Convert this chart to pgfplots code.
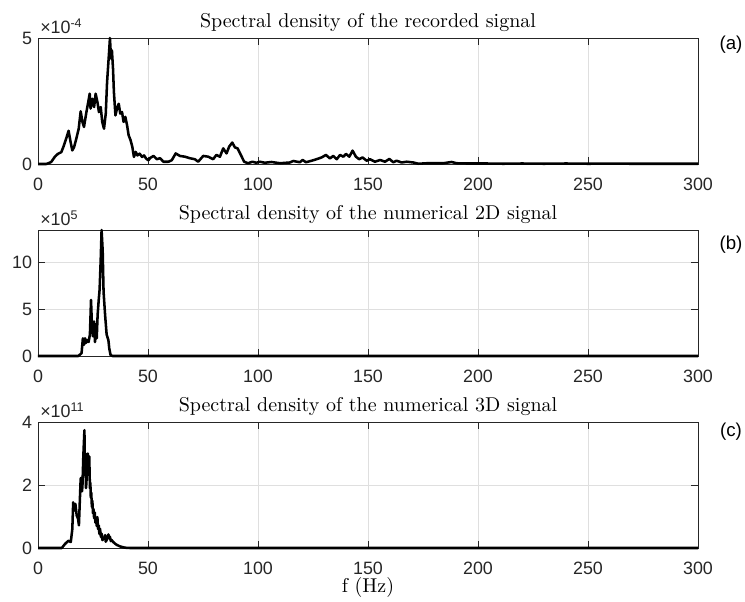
\documentclass[border=0pt]{standalone}
\usepackage{fontspec}
\setsansfont{Liberation Sans}
\newfontfamily\titlefont{lmroman10-regular.otf}
\usepackage{pgfplots}
\pgfplotsset{compat=1.18}

\definecolor{axgray}{RGB}{38,38,38}
\definecolor{gridgray}{RGB}{223,223,223}
\newcommand{\tickfont}{\sffamily\fontsize{13.4}{16}\selectfont}
\newcommand{\expo}[1]{\raisebox{4.5pt}{\fontsize{9.4}{10}\selectfont #1}}

\pgfplotsset{
  spec/.style={
    width=495pt, height=94.5pt, scale only axis,
    xmin=0, xmax=300, ymin=0,
    xtick={0,50,...,300},
    scaled y ticks=false,
    grid=major, major grid style={draw=gridgray, line width=0.5pt},
    tick align=inside, major tick length=5pt,
    axis line style={draw=axgray, line width=0.6pt},
    tick style={draw=axgray, line width=0.6pt},
    ticklabel style={font=\tickfont, text=axgray},
    /pgf/number format/assume math mode=true,
    xticklabel style={anchor=base, yshift=-19.5pt, inner sep=0pt},
    yticklabel style={xshift=-1pt},
    every axis title shift=0pt,
    title style={font=\titlefont\fontsize{15}{18}\selectfont, at={(rel axis cs:0.5,1)}, anchor=base, yshift=8.2pt},
    clip=false,
  },
}
\tikzset{
  sig/.style={black, line width=1.9pt, line join=round, no markers},
  scalelab/.style={anchor=base west, font=\tickfont, text=axgray, inner sep=0pt, xshift=1.5pt, yshift=3.4pt},
  panlab/.style={font=\sffamily\fontsize{14}{16}\selectfont, text=black},
}

\begin{document}
\begin{tikzpicture}
\useasboundingbox (-28.5pt,-39.75pt) rectangle (530.25pt,411pt);

% (a) recorded signal
\begin{axis}[spec, at={(0,288pt)}, ymax=5e-4, ytick={0,5e-4}, yticklabels={0,5},
  title={Spectral density of the recorded signal}]
\addplot[sig] coordinates {
(0,0) (2,0) (3.8,0) (5,0.04e-4) (6,0.08e-4) (7.6,0.28e-4) (9,0.40e-4) (10.6,0.47e-4)
(11.8,0.74e-4) (12.9,1.03e-4) (13.9,1.32e-4) (14.8,0.88e-4) (15.6,0.54e-4) (16.4,0.67e-4)
(17.4,1.00e-4) (18.5,1.40e-4) (19.4,2.09e-4) (20.2,1.67e-4) (20.9,1.47e-4) (22.0,2.06e-4)
(22.7,2.39e-4) (23.5,2.79e-4) (23.9,2.20e-4) (24.7,2.59e-4) (25.5,2.26e-4) (26.2,2.79e-4)
(27.0,2.46e-4) (27.7,2.06e-4) (28.5,2.26e-4) (29.2,1.67e-4) (30.0,1.40e-4) (30.8,2.00e-4)
(31.4,3.25e-4) (31.8,3.78e-4) (32.3,4.44e-4) (32.7,5.00e-4) (33.2,4.18e-4) (33.6,4.51e-4)
(34.1,3.78e-4) (34.5,2.86e-4) (35.2,1.93e-4) (35.9,2.20e-4) (36.7,2.39e-4) (37.4,2.00e-4)
(38.2,2.06e-4) (38.9,1.67e-4) (39.7,1.87e-4) (40.5,1.53e-4) (41.2,1.14e-4) (42.1,0.94e-4)
(42.9,0.67e-4) (43.6,0.28e-4) (44.4,0.48e-4) (45.2,0.34e-4) (46.2,0.41e-4) (47.3,0.28e-4)
(48.2,0.34e-4) (49.2,0.21e-4) (50.2,0.15e-4) (51.0,0.24e-4) (52.5,0.32e-4) (54.0,0.19e-4)
(55.5,0.23e-4) (57.0,0.09e-4) (59.3,0.09e-4) (60.8,0.15e-4) (62.6,0.42e-4) (64.5,0.32e-4)
(66.8,0.29e-4) (69.0,0.23e-4) (71.3,0.19e-4) (72.8,0.09e-4) (75.1,0.32e-4) (77.4,0.29e-4)
(79.6,0.19e-4) (81.1,0.36e-4) (82.7,0.29e-4) (84.2,0.62e-4) (85.7,0.42e-4) (86.9,0.69e-4)
(88.3,0.85e-4) (89.5,0.66e-4) (90.7,0.62e-4) (92.2,0.36e-4) (93.7,0.09e-4) (95.5,0.03e-4)
(97.4,0.09e-4) (99.3,0.05e-4) (100.8,0.09e-4) (103.1,0.05e-4) (106.1,0.08e-4) (110,0.03e-4)
(114.5,0.06e-4) (116,0.12e-4) (119,0.07e-4) (120.3,0.16e-4) (121.8,0.07e-4) (124.4,0.13e-4)
(126.6,0.19e-4) (128.9,0.26e-4) (130.9,0.36e-4) (132.7,0.22e-4) (134.2,0.32e-4) (135.8,0.19e-4)
(137.3,0.36e-4) (138.8,0.29e-4) (140,0.40e-4) (141.5,0.29e-4) (143,0.53e-4) (144.5,0.29e-4)
(146,0.19e-4) (147.5,0.26e-4) (149.4,0.13e-4) (150.9,0.19e-4) (153.2,0.09e-4) (155.5,0.16e-4)
(157.7,0.09e-4) (159.7,0.20e-4) (161.5,0.07e-4) (163,0.13e-4) (165.3,0.06e-4) (167.6,0.09e-4)
(170.6,0.06e-4) (172.9,0.01e-4) (176.7,0.03e-4) (181.2,0.03e-4) (184.2,0.03e-4) (188,0.08e-4)
(190.3,0.03e-4) (194.8,0.02e-4) (199.4,0.02e-4) (203.9,0.02e-4) (211.5,0.01e-4) (220,0.02e-4)
(230,0.01e-4) (240,0.02e-4) (250,0.01e-4) (260,0.015e-4) (270,0.01e-4) (280,0.01e-4)
(290,0.01e-4) (300,0.01e-4)
};
\node[scalelab] at (rel axis cs:0,1) {×10\expo{-4}};
\node[panlab] at (rel axis cs:1.05,0.948) {(a)};
\end{axis}

% (b) numerical 2D signal
\begin{axis}[spec, at={(0,144pt)}, ymax=13.5e5, ytick={0,5e5,10e5}, yticklabels={0,5,10},
  title={Spectral density of the numerical 2D signal}]
\addplot[sig] coordinates {
(0,0) (18.3,0) (19.8,0.3e5) (20.4,1.9e5) (20.9,1.2e5) (21.4,1.9e5) (21.8,1.4e5) (22.4,1.7e5)
(23.0,1.5e5) (23.6,2.3e5) (24.1,6.0e5) (24.5,3.4e5) (25.0,2.1e5) (25.5,3.7e5) (25.9,1.5e5)
(26.2,3.4e5) (26.7,1.9e5) (27.1,4.4e5) (27.6,6.0e5) (28.0,7.1e5) (28.5,10.3e5) (28.9,13.5e5)
(29.4,11.3e5) (29.8,6.9e5) (30.5,4.4e5) (31.2,2.3e5) (32.0,1.7e5) (32.4,0.8e5) (33.0,0.1e5)
(33.9,0) (300,0)
};
\node[scalelab] at (rel axis cs:0,1) {×10\expo{5}};
\node[panlab] at (rel axis cs:1.05,0.881) {(b)};
\end{axis}

% (c) numerical 3D signal
\begin{axis}[spec, at={(0,0)}, ymax=4e11, ytick={0,2e11,4e11}, yticklabels={0,2,4},
  title={Spectral density of the numerical 3D signal},
  xlabel={f (Hz)},
  xlabel style={font=\titlefont\fontsize{15}{18}\selectfont, at={(rel axis cs:0.5,0)}, anchor=base, inner sep=0pt, yshift=-33pt}]
\addplot[sig] coordinates {
(0,0) (10.8,0) (12.3,0.13e11) (13.8,0.23e11) (14.9,0.19e11) (15.6,0.60e11) (16.0,1.45e11)
(16.4,1.18e11) (17.0,1.40e11) (17.6,1.03e11) (18.2,0.93e11) (18.6,0.72e11) (19.1,1.66e11)
(19.4,2.2e11) (19.7,2.23e11) (20.0,1.8e11) (20.2,1.97e11) (20.6,2.91e11) (21.1,3.74e11)
(21.3,2.6e11) (21.5,3.01e11) (21.8,1.9e11) (22.0,2.07e11) (22.4,2.7e11) (22.7,3.0e11)
(22.9,2.33e11) (23.1,2.6e11) (23.3,2.91e11) (23.6,1.9e11) (23.8,2.07e11) (24.0,1.6e11)
(24.2,1.76e11) (24.5,1.3e11) (24.7,1.5e11) (25.0,1.1e11) (25.2,1.24e11) (25.5,0.95e11)
(25.8,1.13e11) (26.1,0.8e11) (26.4,0.93e11) (26.7,0.7e11) (27.0,0.98e11) (27.3,0.6e11)
(27.6,0.72e11) (27.9,0.45e11) (28.2,0.61e11) (28.6,0.35e11) (28.9,0.46e11) (29.3,0.25e11)
(29.7,0.30e11) (30.1,0.3e11) (30.5,0.41e11) (30.8,0.2e11) (31.2,0.25e11) (31.6,0.35e11)
(32.0,0.43e11) (32.4,0.3e11) (32.7,0.36e11) (33.1,0.22e11) (33.5,0.25e11) (34.2,0.19e11)
(35.0,0.14e11) (35.8,0.10e11) (37.3,0.05e11) (39.5,0.01e11) (41.8,0) (300,0)
};
\node[scalelab] at (rel axis cs:0,1) {×10\expo{11}};
\node[panlab] at (rel axis cs:1.05,0.92) {(c)};
\end{axis}
\end{tikzpicture}
\end{document}
